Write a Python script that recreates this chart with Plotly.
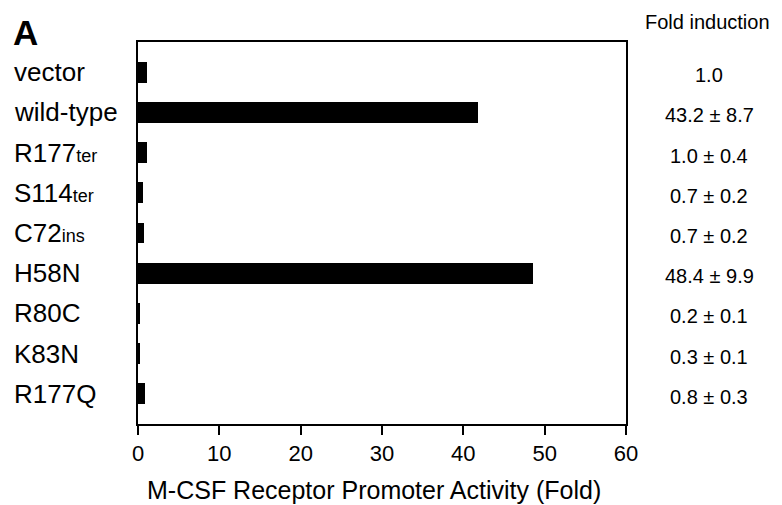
import plotly.graph_objects as go

categories = ["vector", "wild-type", "R177ter", "S114ter", "C72ins", "H58N", "R80C", "K83N", "R177Q"]
label_html = ["vector", "wild-type",
              "R177<span style='font-size:18px'>ter</span>",
              "S114<span style='font-size:18px'>ter</span>",
              "C72<span style='font-size:18px'>ins</span>",
              "H58N", "R80C", "K83N", "R177Q"]
activity = [1.1, 41.8, 1.1, 0.6, 0.7, 48.6, 0.2, 0.3, 0.9]
fold_text = ["1.0", "43.2 ± 8.7", "1.0 ± 0.4", "0.7 ± 0.2", "0.7 ± 0.2",
             "48.4 ± 9.9", "0.2 ± 0.1", "0.3 ± 0.1", "0.8 ± 0.3"]
x_ticks = [0, 10, 20, 30, 40, 50, 60]
x_title = "M-CSF Receptor Promoter Activity (Fold)"

FONT = "Liberation Sans, Arial, sans-serif"

# page body has an 8px margin; the figure is sized to fit the remaining window
OFF = 8
W, H = 782 - OFF, 505 - OFF
L, R, T, B = 138 - OFF, 782 - 626, 42 - OFF, 505 - 424
pw = W - L - R
ph = H - T - B


def px(xpix):
    return (xpix - OFF - L) / pw


def py(ypix):
    return 1 - (ypix - OFF - T) / ph


fig = go.Figure()
fig.add_trace(go.Bar(
    x=activity, y=categories, orientation="h",
    marker=dict(color="black", line=dict(width=0)),
    width=0.52, showlegend=False,
))

ann = []
for cat, lab, ft in zip(categories, label_html, fold_text):
    ann.append(dict(x=px(12), xref="paper", xanchor="left", y=cat, yref="y",
                    text=lab, showarrow=False, font=dict(size=26, color="black", family=FONT)))
    ann.append(dict(x=px(709), xref="paper", xanchor="center", y=cat, yref="y", yshift=-3,
                    text=ft, showarrow=False, font=dict(size=20, color="black", family=FONT)))

ann.append(dict(x=px(707), xref="paper", xanchor="center", y=py(22), yref="paper",
                yanchor="middle", text="Fold induction", showarrow=False,
                font=dict(size=20, color="black", family=FONT)))
ann.append(dict(x=px(11), xref="paper", xanchor="left", y=py(33), yref="paper",
                yanchor="middle", text="<b>A</b>", showarrow=False,
                font=dict(size=35, color="black", family=FONT)))
ann.append(dict(x=px(374), xref="paper", xanchor="center", y=py(490), yref="paper",
                yanchor="middle", text=x_title, showarrow=False,
                font=dict(size=25, color="black", family=FONT)))

fig.update_layout(
    width=W, height=H,
    margin=dict(l=L, r=R, t=T, b=B),
    paper_bgcolor="white", plot_bgcolor="white",
    font=dict(family=FONT, color="black"),
    annotations=ann,
    bargap=0,
    xaxis=dict(range=[0, 60], tickvals=x_ticks, ticks="outside", ticklen=9, tickwidth=1.5,
               tickcolor="black", showline=True, linecolor="black", linewidth=1.5, mirror=True,
               showgrid=False, zeroline=False, tickfont=dict(size=22)),
    yaxis=dict(categoryorder="array", categoryarray=categories, range=[8.75, -0.75],
               showticklabels=False, ticks="", showline=True, linecolor="black", linewidth=1.5,
               mirror=True, showgrid=False, zeroline=False),
)

fig.write_html("out.html")
